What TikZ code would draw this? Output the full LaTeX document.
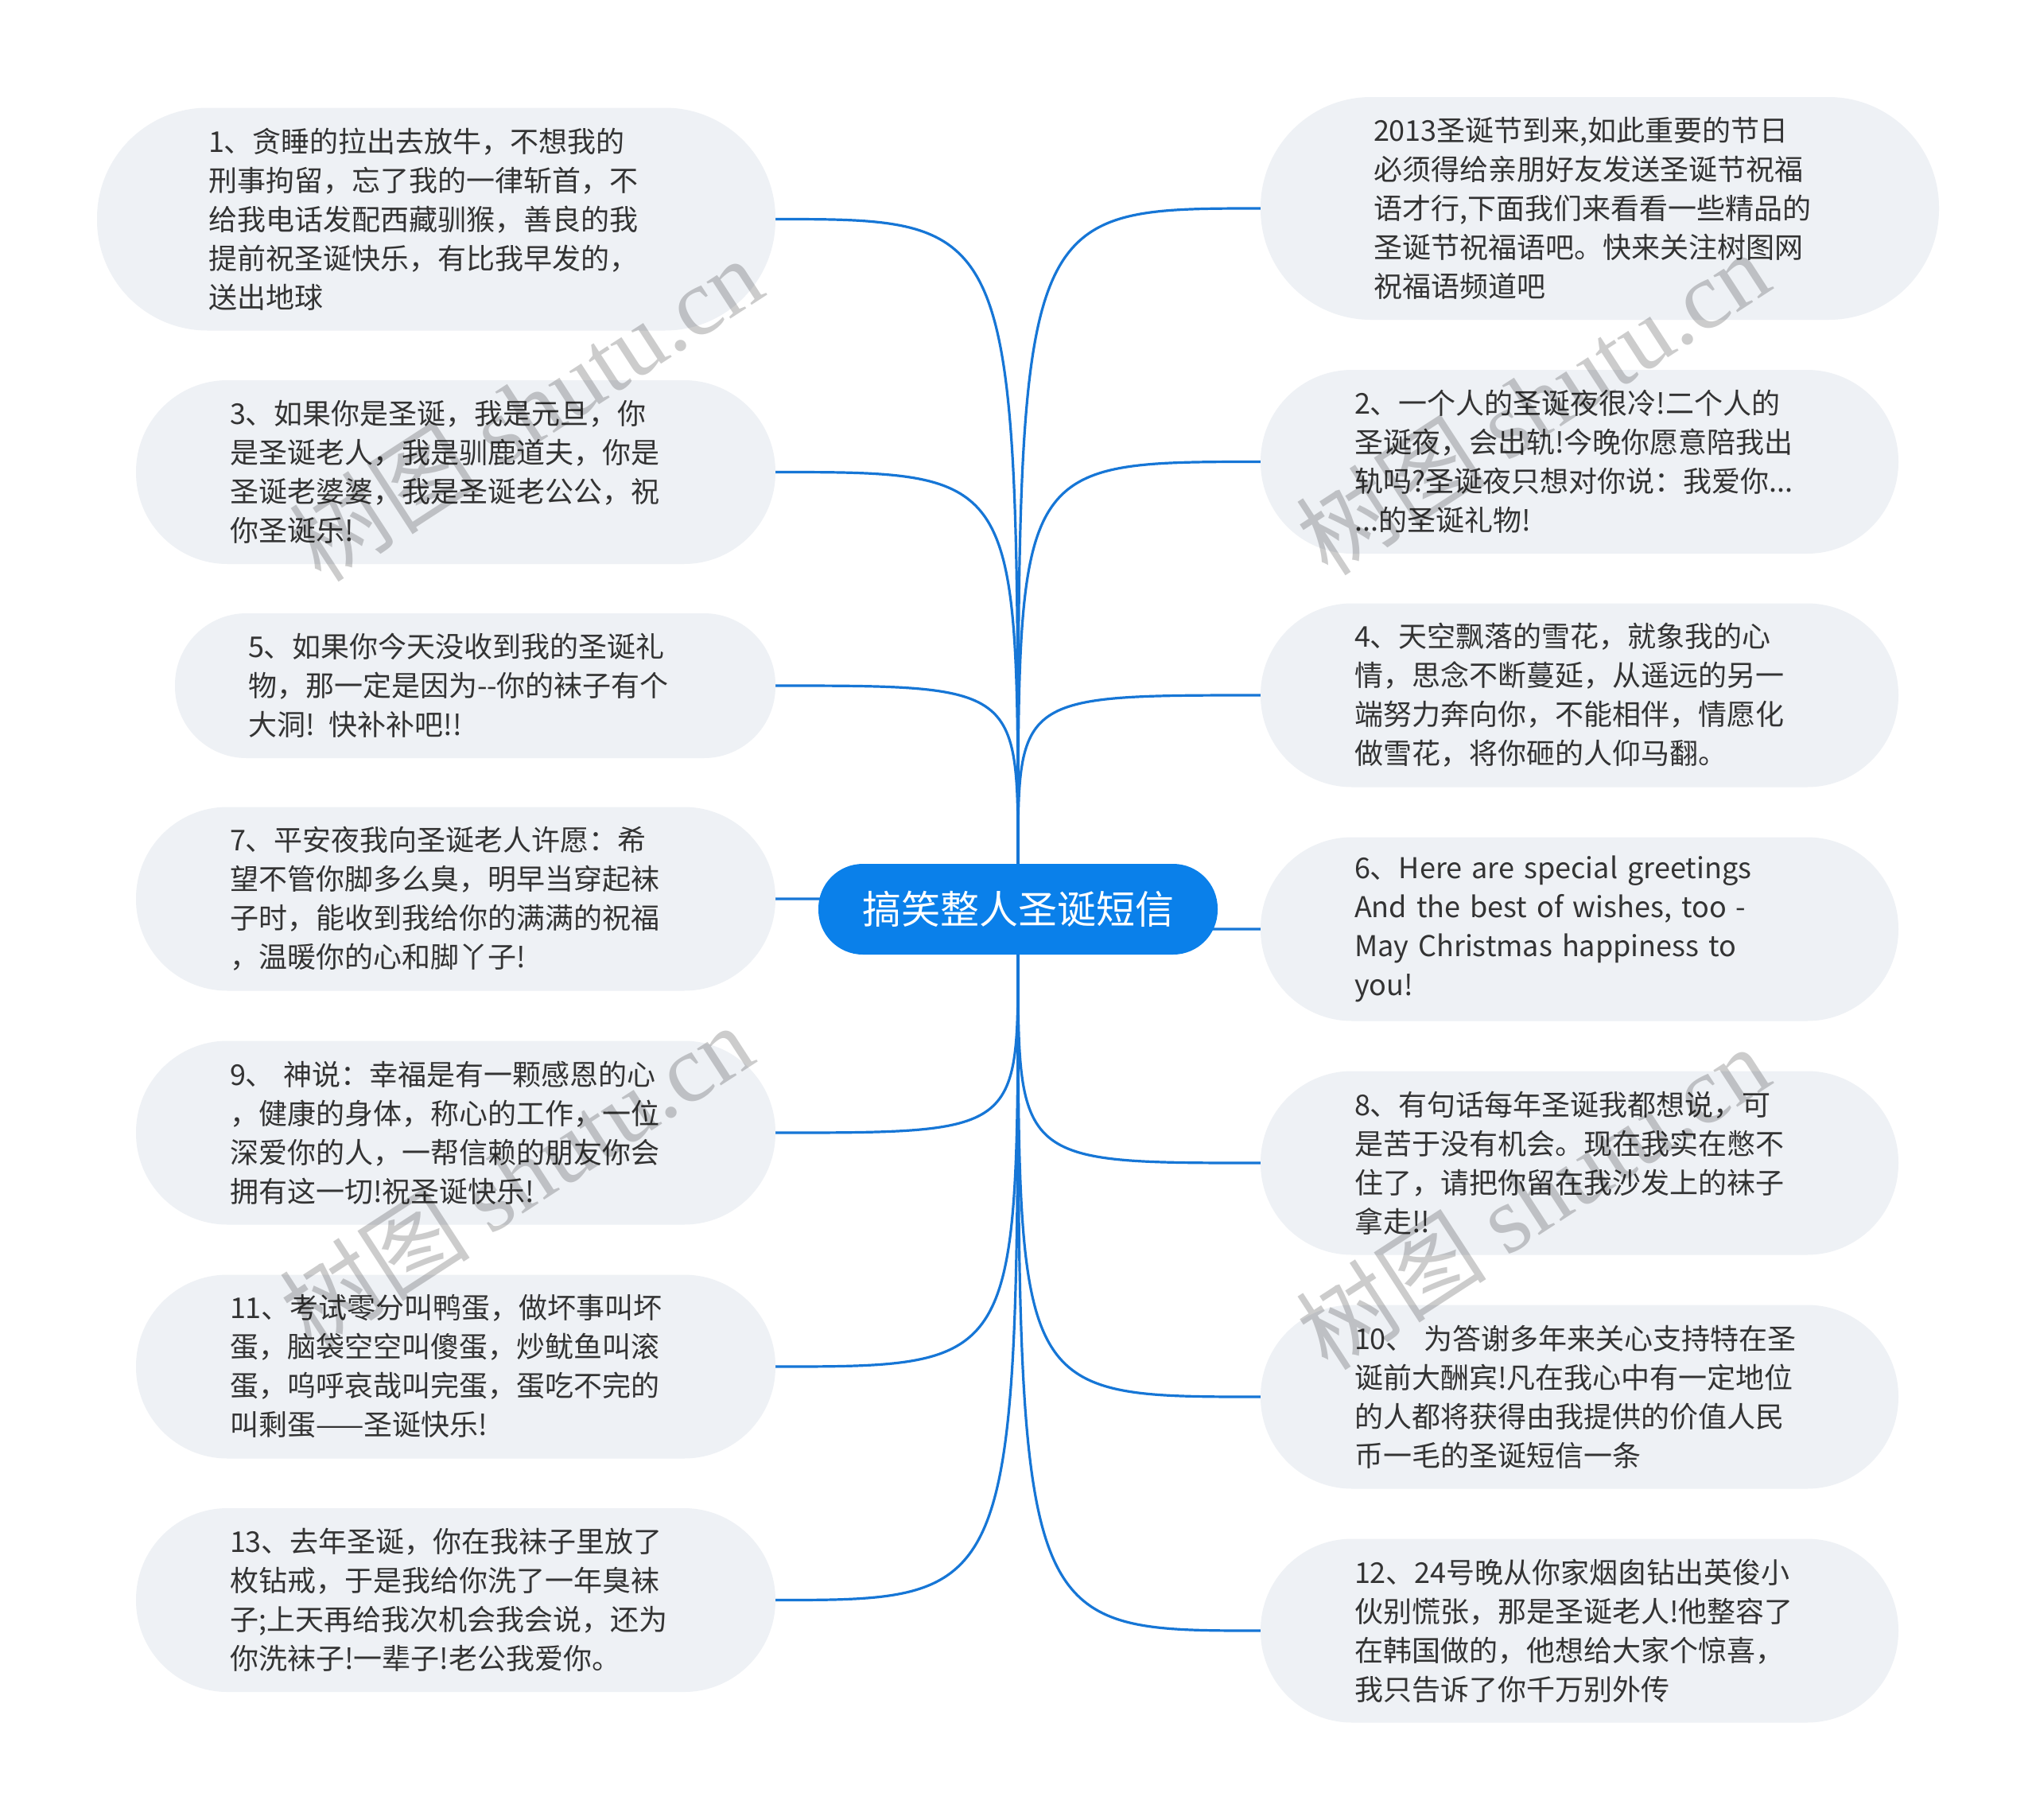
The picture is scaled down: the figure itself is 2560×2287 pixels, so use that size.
\documentclass[tikz,border=0pt]{standalone}
\usepackage{fontspec}
\setmainfont{Noto Sans CJK SC}
\newfontfamily\wmserif{Liberation Serif}
\usetikzlibrary{backgrounds}
\definecolor{linkblue}{RGB}{22,118,214}
\definecolor{rootblue}{RGB}{10,128,234}
\definecolor{leaffill}{RGB}{238,241,245}
\definecolor{txt}{RGB}{51,51,51}
\tikzset{
  root/.style={rectangle, fill=rootblue, text=white, minimum width=502pt, minimum height=114pt,
    rounded corners=56pt, inner sep=0pt, font=\fontsize{49}{56}\selectfont},
  leaf/.style={rectangle, fill=leaffill, text=txt, align=left, inner ysep=0pt,
    font=\fontsize{36}{49}\selectfont},
  fivel/.style={leaf, minimum width=853pt, minimum height=280pt, rounded corners=139pt, inner xsep=140pt, text width=573pt},
  fourl/.style={leaf, minimum width=804pt, minimum height=231pt, rounded corners=115pt, inner xsep=118pt, text width=568pt},
  threel/.style={leaf, minimum width=755pt, minimum height=182pt, rounded corners=90pt, inner xsep=92pt, text width=571pt},
  fourr/.style={leaf, minimum width=802pt, minimum height=231pt, rounded corners=115pt, inner xsep=118pt, text width=566pt},
  link/.style={draw=linkblue, line width=3.2pt},
  wm/.style={text=black, opacity=0.2, font=\fontsize{120}{130}\selectfont, inner sep=0pt}
}
\begin{document}
\begin{tikzpicture}[x=1pt,y=-1pt]
\useasboundingbox (0,0) rectangle (2560,2287);
\node[root] (root) at (1280,1143) {搞笑整人圣诞短信};

\node[fivel] (l1) at (548.5,275.5) {1、贪睡的拉出去放牛，不想我的\\刑事拘留，忘了我的一律斩首，不\\给我电话发配西藏驯猴，善良的我\\提前祝圣诞快乐，有比我早发的，\\送出地球};
\node[fourl] (l3) at (573,593.5) {3、如果你是圣诞，我是元旦，你\\是圣诞老人，我是驯鹿道夫，你是\\圣诞老婆婆，我是圣诞老公公，祝\\你圣诞乐!};
\node[threel] (l5) at (597.5,862) {5、如果你今天没收到我的圣诞礼\\物，那一定是因为{-}{-}你的袜子有个\\大洞! 快补补吧!!};
\node[fourl] (l7) at (573,1130) {7、平安夜我向圣诞老人许愿：希\\望不管你脚多么臭，明早当穿起袜\\子时，能收到我给你的满满的祝福\\，温暖你的心和脚丫子!};
\node[fourl] (l9) at (573,1424) {9、 神说：幸福是有一颗感恩的心\\，健康的身体，称心的工作，一位\\深爱你的人，一帮信赖的朋友你会\\拥有这一切!祝圣诞快乐!};
\node[fourl] (l11) at (573,1718) {11、考试零分叫鸭蛋，做坏事叫坏\\蛋，脑袋空空叫傻蛋，炒鱿鱼叫滚\\蛋，呜呼哀哉叫完蛋，蛋吃不完的\\叫剩蛋——圣诞快乐!};
\node[fourl] (l13) at (573,2011.5) {13、去年圣诞，你在我袜子里放了\\枚钻戒，于是我给你洗了一年臭袜\\子;上天再给我次机会我会说，还为\\你洗袜子!一辈子!老公我爱你。};

\node[fivel, inner xsep=142pt, text width=569pt] (r0) at (2011.5,262) {2013圣诞节到来,如此重要的节日\\必须得给亲朋好友发送圣诞节祝福\\语才行,下面我们来看看一些精品的\\圣诞节祝福语吧。快来关注树图网\\祝福语频道吧};
\node[fourr] (r2) at (1986,580.5) {2、一个人的圣诞夜很冷!二个人的\\圣诞夜，会出轨!今晚你愿意陪我出\\轨吗?圣诞夜只想对你说：我爱你...\\...的圣诞礼物!};
\node[fourr] (r4) at (1986,874) {4、天空飘落的雪花，就象我的心\\情，思念不断蔓延，从遥远的另一\\端努力奔向你，不能相伴，情愿化\\做雪花，将你砸的人仰马翻。};
\node[fourr] (r6) at (1986,1168) {6、Here are special greetings\\And the best of wishes, too -\\May Christmas happiness to\\you!};
\node[fourr] (r8) at (1986,1462) {8、有句话每年圣诞我都想说，可\\是苦于没有机会。现在我实在憋不\\住了，请把你留在我沙发上的袜子\\拿走!!};
\node[fourr] (r10) at (1986,1756) {10、 为答谢多年来关心支持特在圣\\诞前大酬宾!凡在我心中有一定地位\\的人都将获得由我提供的价值人民\\币一毛的圣诞短信一条};
\node[fourr] (r12) at (1986,2050) {12、24号晚从你家烟囱钻出英俊小\\伙别慌张，那是圣诞老人!他整容了\\在韩国做的，他想给大家个惊喜，\\我只告诉了你千万别外传};

\begin{scope}[on background layer]
\fill[white] (0,0) rectangle (2560,2287);
\foreach \n in {l1,l3,l5,l7}{
  \draw[link] (root.north) .. controls (root.north |- \n.east) .. (\n.east);
}
\foreach \n in {l9,l11,l13}{
  \draw[link] (root.south) .. controls (root.south |- \n.east) .. (\n.east);
}
\foreach \n in {r0,r2,r4}{
  \draw[link] (root.north) .. controls (root.north |- \n.west) .. (\n.west);
}
\foreach \n in {r6,r8,r10,r12}{
  \draw[link] (root.south) .. controls (root.south |- \n.west) .. (\n.west);
}
\end{scope}

\node[wm, rotate=33] (w1) at (661,514) {树图 {\wmserif shutu.cn}};
\node[wm, rotate=33] (w2) at (1927,506) {树图 {\wmserif shutu.cn}};
\node[wm, rotate=33] (w3) at (649,1478) {树图 {\wmserif shutu.cn}};
\node[wm, rotate=33] (w4) at (1927,1505) {树图 {\wmserif shutu.cn}};
\end{tikzpicture}
\end{document}
